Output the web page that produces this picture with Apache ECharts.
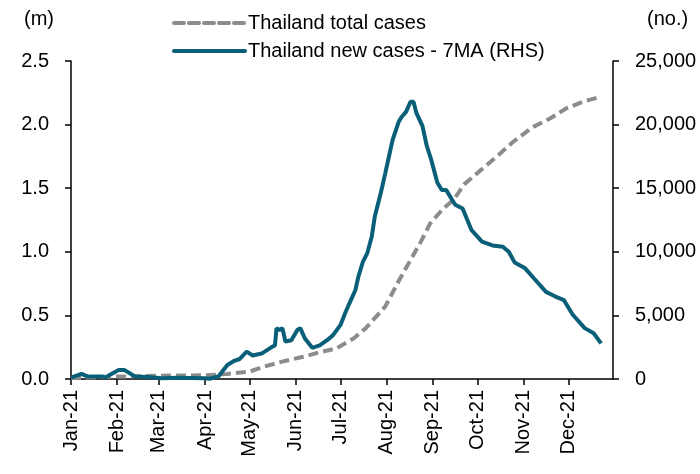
<!DOCTYPE html>
<html><head><meta charset="utf-8">
<script src="https://cdn.jsdelivr.net/npm/echarts@6/dist/echarts.min.js"></script>
<style>html,body{margin:0;padding:0;background:#fff}#c{width:700px;height:474px}</style>
</head><body><div id="c"></div>
<script>
// Series 1: Thailand total cases (m), left axis
const totalDates = ['2021-01-01','2021-02-01','2021-03-01','2021-04-01','2021-04-16','2021-05-01','2021-05-10','2021-05-24','2021-06-06','2021-06-17','2021-06-28','2021-07-10','2021-07-18','2021-07-28','2021-07-31','2021-08-10','2021-08-17','2021-08-24','2021-08-30','2021-09-08','2021-09-15','2021-09-22','2021-10-03','2021-10-14','2021-10-25','2021-11-07','2021-11-19','2021-11-30','2021-12-11','2021-12-23'];
const totalValues = [0.007,0.019,0.026,0.029,0.04,0.058,0.095,0.14,0.175,0.21,0.24,0.32,0.40,0.53,0.57,0.79,0.935,1.08,1.22,1.34,1.41,1.53,1.64,1.75,1.865,1.98,2.05,2.13,2.18,2.22];
// Series 2: Thailand new cases 7MA (no.), right axis
const newDates = ['2021-01-01','2021-01-08','2021-01-12','2021-01-22','2021-01-24','2021-01-26','2021-02-02','2021-02-06','2021-02-13','2021-02-22','2021-03-03','2021-03-14','2021-04-01','2021-04-04','2021-04-10','2021-04-16','2021-04-21','2021-04-24','2021-04-29','2021-05-03','2021-05-09','2021-05-15','2021-05-18','2021-05-19','2021-05-21','2021-05-23','2021-05-25','2021-05-29','2021-06-02','2021-06-04','2021-06-07','2021-06-12','2021-06-17','2021-06-22','2021-06-26','2021-07-01','2021-07-04','2021-07-07','2021-07-11','2021-07-13','2021-07-16','2021-07-19','2021-07-22','2021-07-24','2021-07-28','2021-07-31','2021-08-03','2021-08-05','2021-08-09','2021-08-11','2021-08-14','2021-08-17','2021-08-19','2021-08-21','2021-08-25','2021-08-28','2021-08-31','2021-09-04','2021-09-07','2021-09-10','2021-09-16','2021-09-21','2021-09-27','2021-10-04','2021-10-11','2021-10-18','2021-10-22','2021-10-26','2021-11-02','2021-11-08','2021-11-16','2021-11-22','2021-11-28','2021-12-04','2021-12-12','2021-12-18','2021-12-23'];
const newValues = [100,400,200,200,100,250,700,700,200,150,50,100,50,20,200,1100,1450,1550,2150,1850,2000,2450,2650,4000,3850,4000,2950,3050,3850,4000,3200,2450,2650,3050,3450,4250,5150,5950,7000,8050,9200,9900,11200,12750,14600,16150,17750,18800,20200,20600,21000,21800,21800,20900,19900,18300,17200,15450,14850,14850,13700,13400,11700,10800,10500,10400,10000,9150,8700,7900,6850,6500,6200,5050,4000,3600,2800];
const seriesNames = ['Thailand total cases','Thailand new cases - 7MA (RHS)'];
const monthNames = ['Jan','Feb','Mar','Apr','May','Jun','Jul','Aug','Sep','Oct','Nov','Dec'];
const leftTicks = {min:0, max:2.5, interval:0.5};
const rightTicks = {min:0, max:25000, interval:5000};

// categories: every day of 2021
const categories = [];
for (let t = Date.UTC(2021,0,1); t <= Date.UTC(2021,11,31); t += 86400000) {
  categories.push(new Date(t).toISOString().slice(0,10));
}
const isMonthStart = (i, v) => v.slice(8,10) === '01';
const fmtMonth = v => monthNames[parseInt(v.slice(5,7),10)-1] + '-' + v.slice(2,4);

const FONT = 'Liberation Sans, Arial, sans-serif';
const FS = 20;
const chart = echarts.init(document.getElementById('c'), null, {renderer:'canvas'});
chart.setOption({
  animation:false,
  backgroundColor:'#fff',
  grid:{left:71, right:87, top:61, bottom:95, containLabel:false},
  legend:{
    orient:'vertical', left:167, top:8, itemWidth:71, itemHeight:14, itemGap:8,
    itemStyle:{opacity:0},
    lineStyle:{width:4, cap:'round'},
    textStyle:{fontFamily:FONT, fontSize:FS, color:'#000', padding:[0,0,0,-2]},
    data:seriesNames
  },
  graphic:[
    {type:'text', left:24, top:9, style:{text:'(m)', font:FS+'px '+FONT, fill:'#000'}},
    {type:'text', left:647, top:9, style:{text:'(no.)', font:FS+'px '+FONT, fill:'#000'}}
  ],
  xAxis:{
    type:'category', data:categories, boundaryGap:false,
    axisLine:{lineStyle:{color:'#000', width:1.5}},
    axisTick:{interval:isMonthStart, length:6, lineStyle:{color:'#000', width:1.5}},
    axisLabel:{interval:isMonthStart, rotate:90, formatter:fmtMonth, fontFamily:FONT, fontSize:FS, color:'#000', margin:11},
    splitLine:{show:false}
  },
  yAxis:[
    {type:'value', position:'left', min:leftTicks.min, max:leftTicks.max, interval:leftTicks.interval,
     axisLine:{show:true, lineStyle:{color:'#000', width:1.5}},
     axisTick:{show:true, length:6, lineStyle:{color:'#000', width:1.5}},
     axisLabel:{formatter:v=>v.toFixed(1), fontFamily:FONT, fontSize:FS, color:'#000', margin:22},
     splitLine:{show:false}},
    {type:'value', position:'right', min:rightTicks.min, max:rightTicks.max, interval:rightTicks.interval,
     axisLine:{show:true, lineStyle:{color:'#000', width:1.5}},
     axisTick:{show:true, length:6, lineStyle:{color:'#000', width:1.5}},
     axisLabel:{formatter:v=>v.toLocaleString('en-US'), fontFamily:FONT, fontSize:FS, color:'#000', margin:22},
     splitLine:{show:false}}
  ],
  series:[
    {name:seriesNames[0], type:'line', yAxisIndex:0, showSymbol:false, symbol:'none',
     data: totalDates.map((d,i)=>[d, totalValues[i]]),
     lineStyle:{color:'#8c8c8c', width:4, type:[10,5]}, itemStyle:{color:'#8c8c8c'}, z:2},
    {name:seriesNames[1], type:'line', yAxisIndex:1, showSymbol:false, symbol:'none',
     data: newDates.map((d,i)=>[d, newValues[i]]),
     lineStyle:{color:'#0a5f78', width:4}, itemStyle:{color:'#0a5f78'}, z:3}
  ]
});
</script></body></html>
